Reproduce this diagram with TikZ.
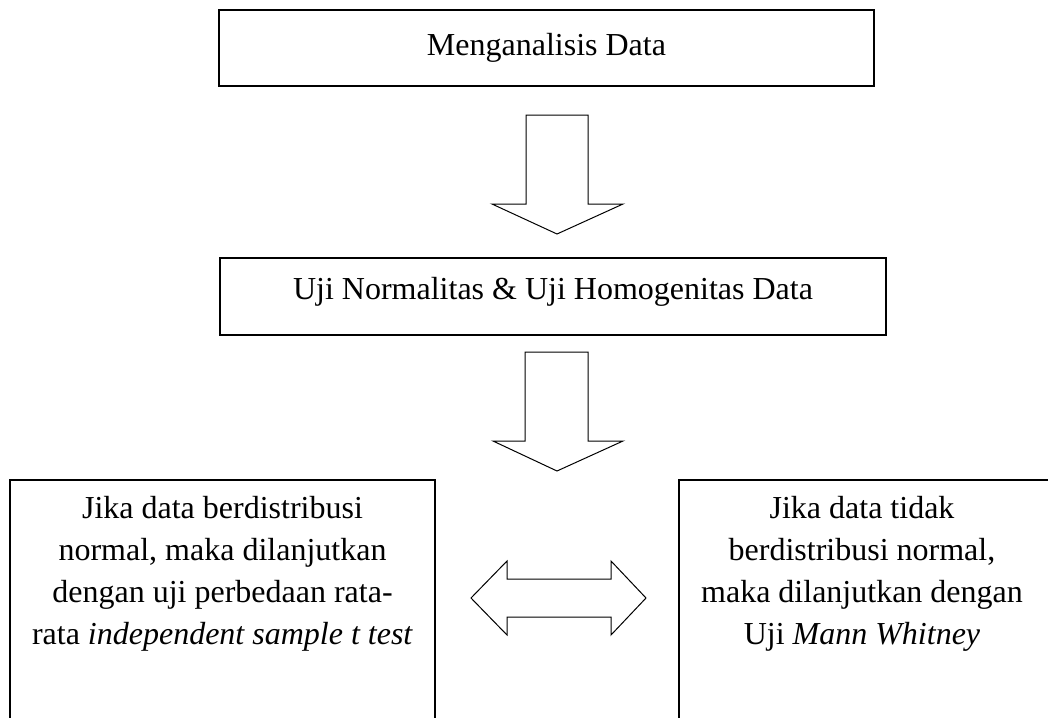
\documentclass[tikz,border=0pt]{standalone}
\usepackage{fontspec}
\setmainfont{Liberation Serif}
\begin{document}
\begin{tikzpicture}[x=1pt,y=-1pt,
  boxstyle/.style={draw=black,line width=1.3pt,inner sep=0pt,rectangle},
  txt/.style={font={\fontsize{32}{41.7}\selectfont},align=center,inner sep=0pt},
  blockarrow/.style={draw=black,line width=1pt,fill=white,line join=miter}]
\useasboundingbox (0,0) rectangle (1048,717);
\clip (0,0) rectangle (1048,717);
% top boxes
\node[boxstyle,txt,minimum width=655pt,minimum height=76pt] (top) at (546.5,48) {Menganalisis Data};
\node[boxstyle,txt,minimum width=666pt,minimum height=77pt,text height=20pt,text depth=14pt] (mid) at (553,296.5) {Uji Normalitas \& Uji Homogenitas Data};
% bottom boxes (cut off by the page edge)
\node[boxstyle,minimum width=425pt,minimum height=280pt] (lbox) at (222.5,620) {};
\node[boxstyle,minimum width=381pt,minimum height=280pt] (rbox) at (869.5,620) {};
\node[txt,anchor=base] (ltext) at (222.5,644) {Jika data berdistribusi\\normal, maka dilanjutkan\\dengan uji perbedaan rata-\\rata \textit{independent sample t test}};
\node[txt,anchor=base] (rtext) at (862,644) {Jika data tidak\\berdistribusi normal,\\maka dilanjutkan dengan\\Uji \textit{Mann Whitney}};
% block arrow 1
\draw[blockarrow] (526,115) -- (588,115) -- (588,204) -- (623,204) -- (557,234) -- (492,204) -- (526,204) -- cycle;
% block arrow 2
\draw[blockarrow] (525,352) -- (588,352) -- (588,441) -- (623,441) -- (557,471) -- (493,441) -- (525,441) -- cycle;
% double arrow
\draw[blockarrow] (471,598) -- (507,561) -- (507,579) -- (611,579) -- (611,561) -- (646,598) -- (611,635) -- (611,617) -- (507,617) -- (507,635) -- cycle;
\end{tikzpicture}
\end{document}
